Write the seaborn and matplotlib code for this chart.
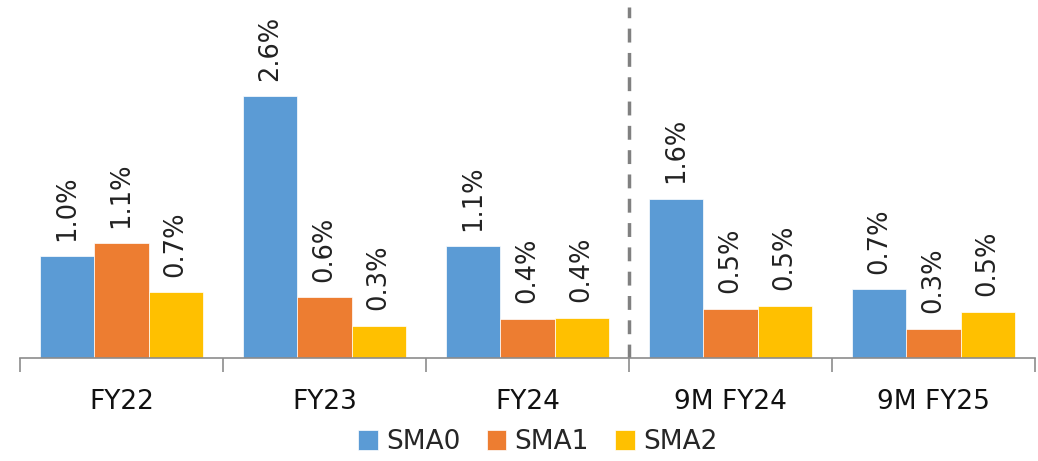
import matplotlib
matplotlib.use("Agg")
import matplotlib.pyplot as plt
import pandas as pd
import seaborn as sns

# ── Data ──────────────────────────────────────────────────────────────────────
periods = ["FY22", "FY23", "FY24", "9M FY24", "9M FY25"]
series = ["SMA0", "SMA1", "SMA2"]
sma0 = [1.01, 2.60, 1.11, 1.58, 0.68]
sma1 = [1.14, 0.60, 0.39, 0.49, 0.29]
sma2 = [0.65, 0.32, 0.40, 0.52, 0.46]
label_sma0 = ["1.0%", "2.6%", "1.1%", "1.6%", "0.7%"]
label_sma1 = ["1.1%", "0.6%", "0.4%", "0.5%", "0.3%"]
label_sma2 = ["0.7%", "0.3%", "0.4%", "0.5%", "0.5%"]

colors = ["#5B9BD5", "#ED7D31", "#FFC000"]

df = pd.DataFrame({
    "period": periods * 3,
    "series": [s for s in series for _ in periods],
    "value": sma0 + sma1 + sma2,
})
labels = [label_sma0, label_sma1, label_sma2]

# ── Plot ──────────────────────────────────────────────────────────────────────
sns.set_theme(style="white")
plt.rcParams["font.family"] = ["DejaVu Sans"]

fig = plt.figure(figsize=(10.38, 4.61), dpi=100)
ax = fig.add_axes([20 / 1038, 1 - 358 / 461, 1015 / 1038, 358 / 461])

sns.barplot(data=df, x="period", y="value", hue="series", order=periods,
            hue_order=series, palette=colors, width=0.8, ax=ax,
            saturation=1, edgecolor="white", linewidth=0.5, legend=True)

for cont, labs in zip(ax.containers, labels):
    ax.bar_label(cont, labels=labs, rotation=90, padding=11, fontsize=18.5,
                 color="#222222")

ax.set_xlim(-0.5, len(periods) - 0.5)
ax.set_ylim(0, 3.55)
ax.set_xlabel("")
ax.set_ylabel("")
ax.set_yticks([])

for side in ["top", "right", "left"]:
    ax.spines[side].set_visible(False)
ax.spines["bottom"].set_color("#8c8c8c")
ax.spines["bottom"].set_linewidth(1.2)

ax.set_xticks(range(len(periods)))
ax.set_xticklabels(periods, fontsize=19, color="#111111")
ax.tick_params(axis="x", which="major", length=0, pad=22)
ax.set_xticks([i - 0.5 for i in range(len(periods) + 1)], minor=True)
ax.tick_params(axis="x", which="minor", length=10, width=1.2, color="#8c8c8c",
               bottom=True)

# separator between full years and nine-month periods
ax.axvline(2.5, ymin=0, ymax=0.98, color="#808080", linestyle=(0, (4, 3)),
           linewidth=2.5)

leg = ax.legend(loc="upper center", bbox_to_anchor=(0.51, -0.155), ncol=3,
                frameon=False, fontsize=19, handlelength=0.75, handleheight=0.75,
                handletextpad=0.3, columnspacing=1.0, borderpad=0.1)

fig.savefig("out.png", dpi=100)
